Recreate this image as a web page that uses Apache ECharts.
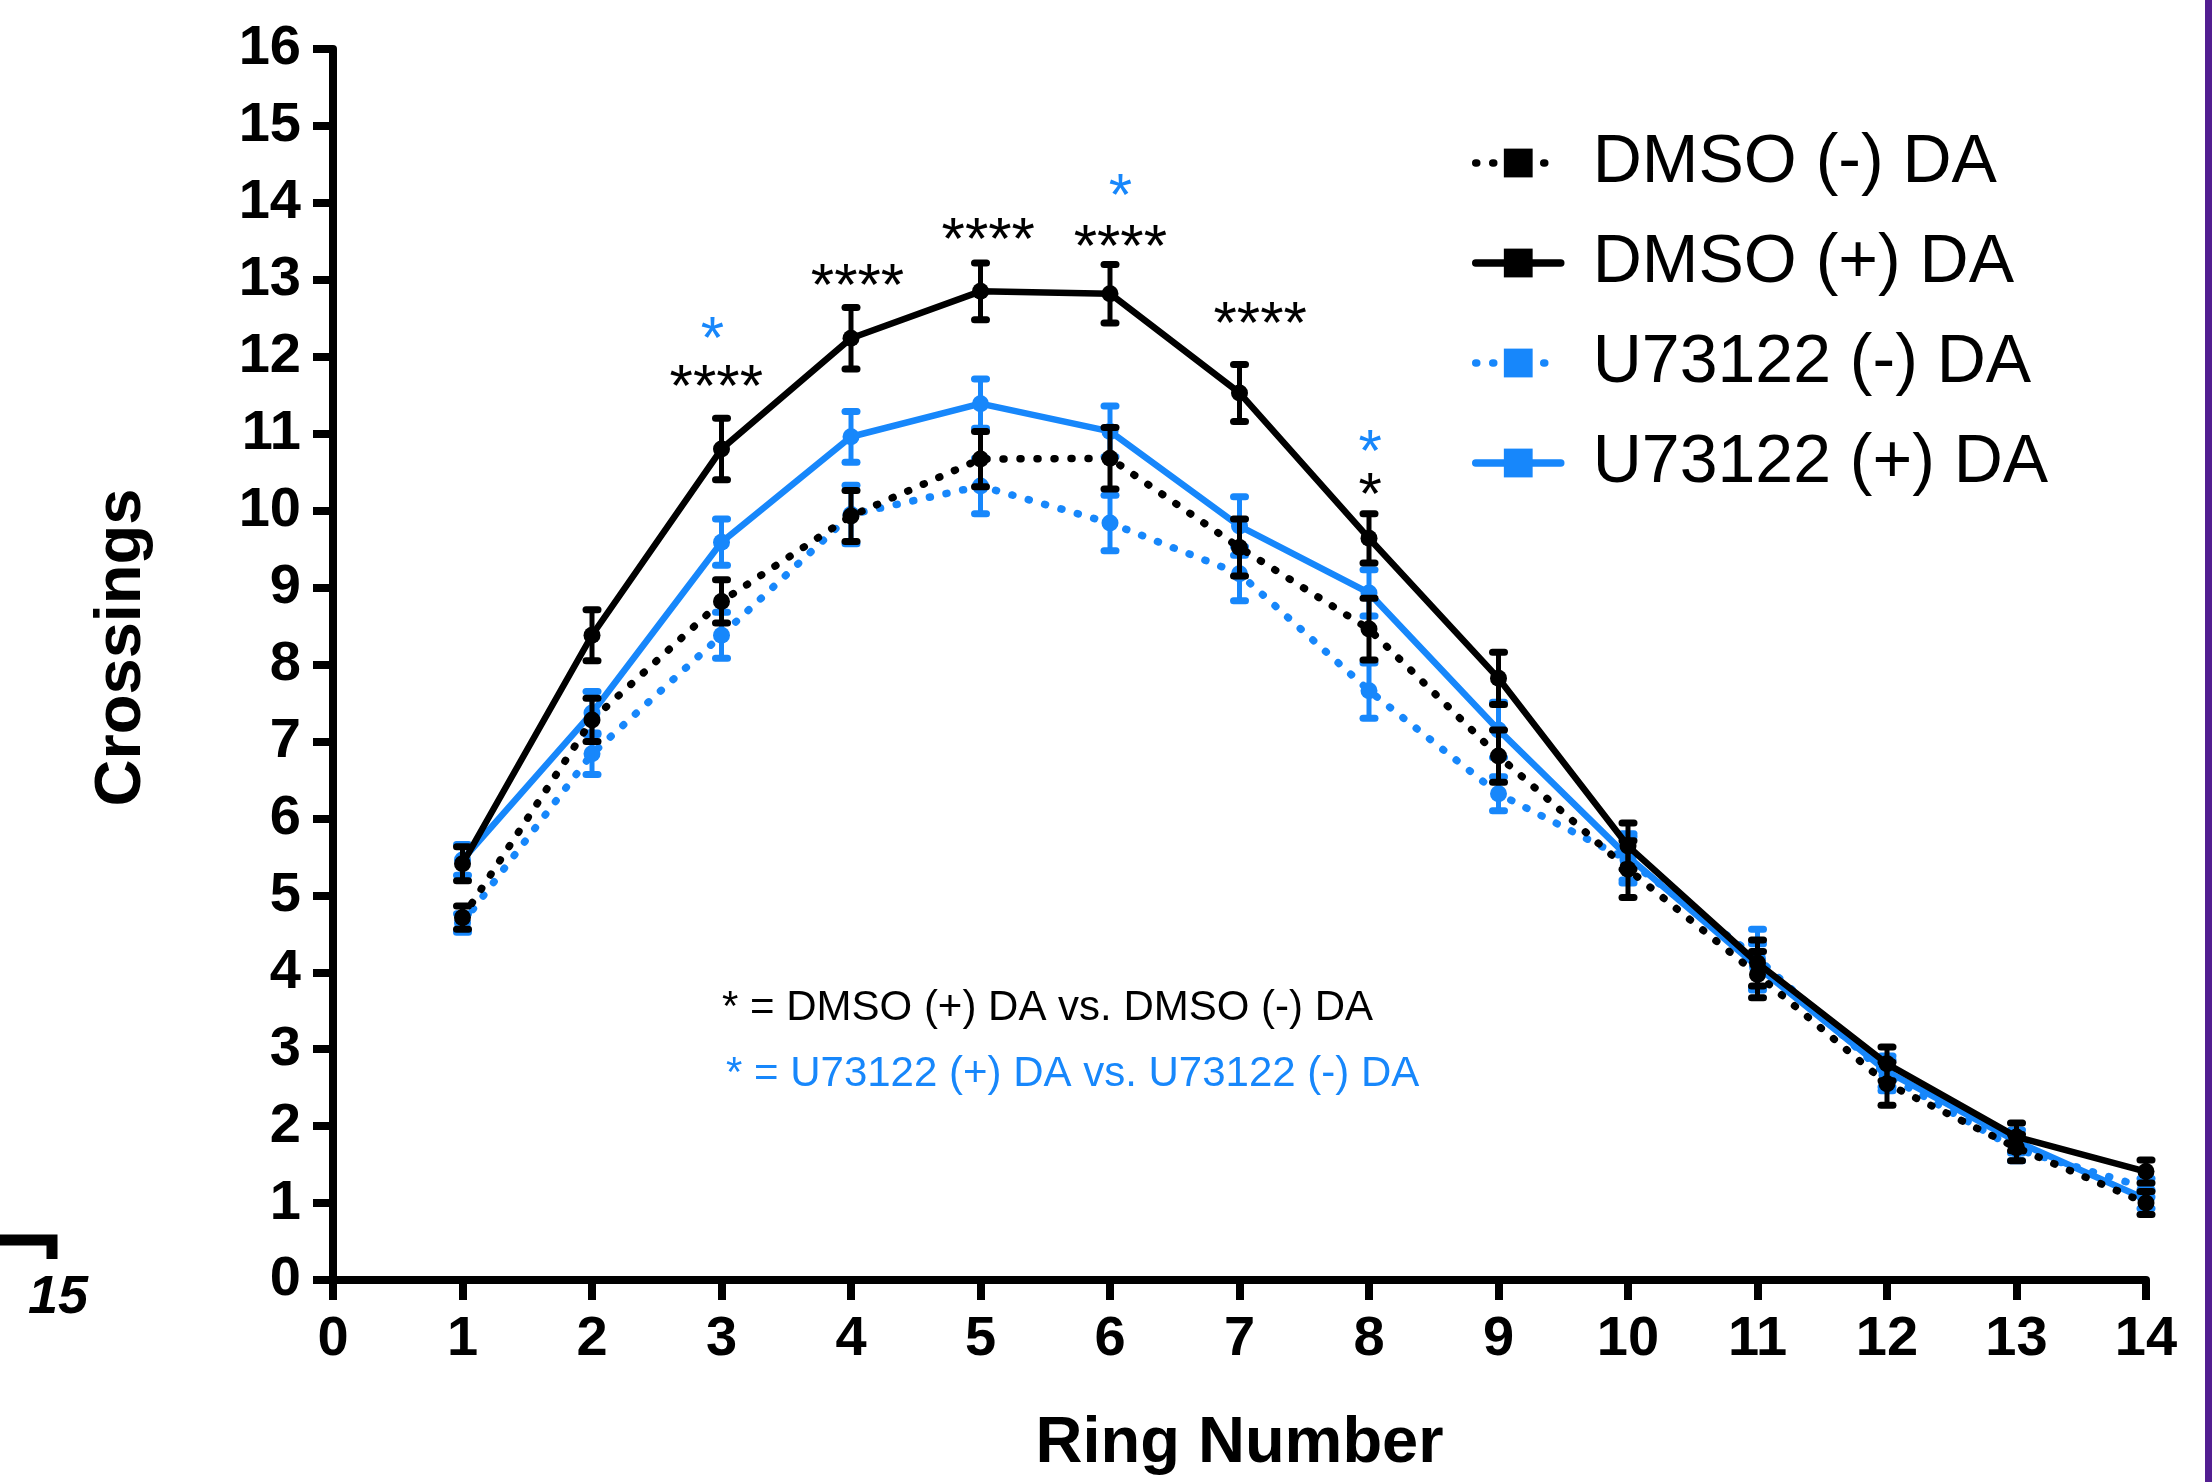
<!DOCTYPE html>
<html>
<head>
<meta charset="utf-8">
<script src="https://cdn.jsdelivr.net/npm/echarts@6/dist/echarts.min.js"></script>
<style>
  html, body { margin: 0; padding: 0; background: #ffffff; }
  #chart { width: 2212px; height: 1482px; }
</style>
</head>
<body>
<div id="chart"></div>
<script>
// ---------------- data ----------------
const rings = [1, 2, 3, 4, 5, 6, 7, 8, 9, 10, 11, 12, 13, 14];
const xTicks = [0, 1, 2, 3, 4, 5, 6, 7, 8, 9, 10, 11, 12, 13, 14];
const yTicks = [0, 1, 2, 3, 4, 5, 6, 7, 8, 9, 10, 11, 12, 13, 14, 15, 16];

const seriesNames = ['DMSO (-) DA', 'DMSO (+) DA', 'U73122 (-) DA', 'U73122 (+) DA'];

const dmsoMinus    = [4.71, 7.28, 8.82, 9.93, 10.67, 10.68, 9.52, 8.46, 6.81, 5.34, 3.97, 2.55, 1.72, 1.00];
const dmsoMinusSem = [0.15, 0.28, 0.28, 0.33, 0.36, 0.40, 0.37, 0.40, 0.34, 0.37, 0.30, 0.28, 0.17, 0.15];
const dmsoPlus     = [5.41, 8.38, 10.80, 12.24, 12.85, 12.82, 11.53, 9.64, 7.82, 5.64, 4.12, 2.81, 1.86, 1.41];
const dmsoPlusSem  = [0.22, 0.33, 0.40, 0.40, 0.37, 0.38, 0.37, 0.32, 0.34, 0.30, 0.30, 0.22, 0.18, 0.15];
const u73Minus     = [4.64, 6.84, 8.38, 9.95, 10.32, 9.84, 9.18, 7.66, 6.32, 5.46, 4.18, 2.66, 1.70, 1.20];
const u73MinusSem  = [0.12, 0.27, 0.30, 0.38, 0.36, 0.36, 0.35, 0.36, 0.22, 0.30, 0.38, 0.20, 0.15, 0.12];
const u73Plus      = [5.46, 7.37, 9.59, 10.96, 11.39, 11.03, 9.80, 8.93, 7.15, 5.50, 4.07, 2.71, 1.80, 1.05];
const u73PlusSem   = [0.20, 0.28, 0.30, 0.33, 0.32, 0.33, 0.38, 0.30, 0.36, 0.30, 0.30, 0.20, 0.15, 0.12];

// significance annotations (ring position, height in Crossings units, text)
const blackStarX    = [2.96, 4.05, 5.06, 6.08, 7.16, 8.01];
const blackStarY    = [11.75, 13.06, 13.66, 13.57, 12.56, 10.34];
const blackStarText = ['****', '****', '****', '****', '****', '*'];
const blueStarX     = [2.93, 6.08, 8.01];
const blueStarY     = [12.37, 14.22, 10.90];
const blueStarText  = ['*', '*', '*'];

const noteBlack = '* = DMSO (+) DA vs. DMSO (-) DA';
const noteBlue  = '* = U73122 (+) DA vs. U73122 (-) DA';
const xName = 'Ring Number';
const yName = 'Crossings';
const sideLabel = '15';

// ---------------- styles ----------------
const BLACK = '#000000';
const BLUE = '#1787fb';
const FONT = '"Liberation Sans", Arial, Helvetica, sans-serif';
const DOT = [1, 16];

function lineSeries(name, values, color, dotted, z) {
  return {
    name: name,
    type: 'line',
    symbol: 'rect',
    symbolSize: 17,
    z: z,
    data: rings.map((r, i) => ({ value: [r, values[i]], symbol: 'circle' })),
    lineStyle: {
      color: color,
      width: dotted ? 7.5 : 6.5,
      type: dotted ? DOT : 'solid',
      cap: 'round'
    },
    itemStyle: { color: color },
    emphasis: { disabled: true },
    silent: true
  };
}

function errSeries(name, values, sems, color, z) {
  return {
    name: name,
    type: 'custom',
    z: z,
    silent: true,
    data: rings.map((r, i) => [r, values[i] - sems[i], values[i] + sems[i]]),
    renderItem: function (params, api) {
      const x = api.value(0);
      const lo = api.coord([x, api.value(1)]);
      const hi = api.coord([x, api.value(2)]);
      const cw = 6;
      return {
        type: 'group',
        children: [
          { type: 'line', shape: { x1: hi[0], y1: hi[1], x2: lo[0], y2: lo[1] },
            style: { stroke: color, lineWidth: 5 } },
          { type: 'line', shape: { x1: hi[0] - cw, y1: hi[1], x2: hi[0] + cw, y2: hi[1] },
            style: { stroke: color, lineWidth: 7, lineCap: 'round' } },
          { type: 'line', shape: { x1: lo[0] - cw, y1: lo[1], x2: lo[0] + cw, y2: lo[1] },
            style: { stroke: color, lineWidth: 7, lineCap: 'round' } }
        ]
      };
    }
  };
}

function starSeries(name, xs, ys, texts, color) {
  return {
    name: name,
    type: 'custom',
    z: 10,
    silent: true,
    data: xs.map((x, i) => [x, ys[i], i]),
    renderItem: function (params, api) {
      const p = api.coord([api.value(0), api.value(1)]);
      return {
        type: 'text',
        x: p[0],
        y: p[1] + 13,
        style: {
          text: texts[api.value(2)],
          fill: color,
          font: '60px ' + FONT,
          align: 'center',
          verticalAlign: 'middle'
        }
      };
    }
  };
}

const chart = echarts.init(document.getElementById('chart'), null, { renderer: 'canvas' });

const option = {
  animation: false,
  backgroundColor: '#ffffff',
  grid: { left: 333, right: 66, top: 49, bottom: 201 },
  xAxis: {
    type: 'value',
    min: xTicks[0],
    max: xTicks[xTicks.length - 1],
    interval: 1,
    name: xName,
    nameLocation: 'middle',
    nameGap: 132,
    nameTextStyle: { fontSize: 65, fontWeight: 'bold', fontFamily: FONT, color: BLACK },
    axisLine: { show: true, onZero: false, lineStyle: { color: BLACK, width: 8 } },
    axisTick: { show: true, length: 20, lineStyle: { color: BLACK, width: 8 } },
    axisLabel: { margin: 32, fontSize: 56, fontWeight: 'bold', fontFamily: FONT, color: BLACK,
                 showMinLabel: true, showMaxLabel: true },
    splitLine: { show: false }
  },
  yAxis: {
    type: 'value',
    min: yTicks[0],
    max: yTicks[yTicks.length - 1],
    interval: 1,
    name: yName,
    nameLocation: 'middle',
    nameGap: 178,
    nameTextStyle: { fontSize: 65, fontWeight: 'bold', fontFamily: FONT, color: BLACK,
                     padding: [0, 0, 0, 34] },
    axisLine: { show: true, onZero: false, lineStyle: { color: BLACK, width: 8 } },
    axisTick: { show: true, length: 20, lineStyle: { color: BLACK, width: 8 } },
    axisLabel: { margin: 32, fontSize: 56, fontWeight: 'bold', fontFamily: FONT, color: BLACK,
                 showMinLabel: true, showMaxLabel: true },
    splitLine: { show: false }
  },
  legend: {
    orient: 'vertical',
    left: 1467,
    top: 119,
    itemWidth: 85,
    itemHeight: 36,
    itemGap: 22,
    selectedMode: false,
    data: seriesNames,
    lineStyle: { width: 7.5 },
    textStyle: { fontSize: 68, fontFamily: FONT, color: BLACK, lineHeight: 78, padding: [0, 0, 0, 27] }
  },
  series: [
    lineSeries(seriesNames[2], u73Minus, BLUE, true, 2),
    lineSeries(seriesNames[3], u73Plus, BLUE, false, 2),
    errSeries('err-u73-minus', u73Minus, u73MinusSem, BLUE, 3),
    errSeries('err-u73-plus', u73Plus, u73PlusSem, BLUE, 3),
    lineSeries(seriesNames[0], dmsoMinus, BLACK, true, 4),
    lineSeries(seriesNames[1], dmsoPlus, BLACK, false, 4),
    errSeries('err-dmso-minus', dmsoMinus, dmsoMinusSem, BLACK, 5),
    errSeries('err-dmso-plus', dmsoPlus, dmsoPlusSem, BLACK, 5),
    starSeries('stars-dmso', blackStarX, blackStarY, blackStarText, BLACK),
    starSeries('stars-u73', blueStarX, blueStarY, blueStarText, BLUE)
  ],
  graphic: [
    { type: 'text', left: 722, top: 987,
      style: { text: noteBlack, fill: BLACK, font: '42px ' + FONT } },
    { type: 'text', left: 726, top: 1053,
      style: { text: noteBlue, fill: BLUE, font: '42px ' + FONT } },
    { type: 'rect', shape: { x: 2205, y: 0, width: 7, height: 1482 }, style: { fill: '#521e91' } },
    { type: 'polyline', shape: { points: [[0, 1240], [52, 1240], [52, 1259]] },
      style: { stroke: BLACK, lineWidth: 11, fill: null } },
    { type: 'text', x: 58, y: 1298,
      style: { text: sideLabel, fill: BLACK, font: 'italic bold 54px ' + FONT,
               align: 'center', verticalAlign: 'middle' } }
  ]
};

chart.setOption(option);
</script>
</body>
</html>
